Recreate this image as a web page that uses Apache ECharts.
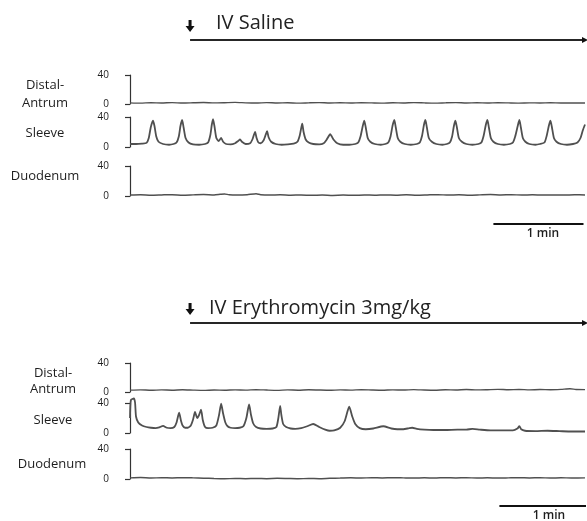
<!DOCTYPE html>
<html>
<head>
<meta charset="utf-8">
<script src="https://cdn.jsdelivr.net/npm/echarts@6/dist/echarts.min.js"></script>
<style>
html, body { margin: 0; padding: 0; background: #fff; }
#main { width: 587px; height: 521px; }
</style>
</head>
<body>
<div id="main"></div>
<script>
// time in seconds, pressure in mmHg
var recordEnd = 303;
var infusionStart = 40;
var scaleBarSaline = [242, 302];
var scaleBarEry = [246, 306];
var channelNames = ['Distal-\nAntrum', 'Sleeve', 'Duodenum'];
var infusionNames = ['IV Saline', 'IV Erythromycin 3mg/kg'];

// IV saline: distal antrum
var antrumSaline = [[0,1.6],[7,1.2],[14,1.8],[21,1.4],[28,1.9],[35,1.3],[42,1.7],[49,2.1],[56,1.5],[63,1.8],[70,2.2],[77,1.6],[84,1.3],[91,1.9],[98,1.4],[105,1.7],[112,1.2],[119,1.6],[126,1.9],[133,1.4],[140,1.7],[147,1.3],[154,1.8],[161,1.5],[168,1.2],[175,1.7],[182,1.4],[189,1.9],[196,1.5],[203,1.2],[210,1.6],[217,1.9],[224,1.4],[231,1.7],[238,1.3],[245,1.8],[252,1.5],[259,1.2],[266,1.6],[273,1.4],[280,1.7],[287,1.3],[294,1.5],[303,1.4]];

// IV saline: sleeve
var sleeveSaline = [[0,4],[4,4],[8,4.5],[11,5.5],[12.5,12],[13.8,26],[15.3,35],[16.3,28],[17.5,14],[19,7],[22,4],[26,3],[29,4],[31,6],[32.5,14],[33.6,28],[34.7,36],[35.7,26],[37,12],[39,6],[42,3.5],[46,3],[50,4],[52,6],[53.5,16],[54.5,30],[55.3,37],[56.3,27],[57.5,12],[59,8],[60.7,12],[62,7],[64,4],[67,3.5],[70,5],[72,8],[73.3,10],[74.5,7],[77,4],[80,5],[81.5,10],[82.5,16],[83.3,20],[84.3,12],[85.5,6],[87,5],[89,9],[90.3,16],[91.3,21],[92.3,13],[94,7],[97,4],[101,3],[105,3.5],[109,4.5],[111.5,7],[113,15],[114,25],[114.7,31],[115.6,20],[117,10],[119,6],[122,4],[126,3.5],[129,5],[131,10],[133.3,17],[135.5,10],[138,5],[142,3],[146,3],[150,4],[152,6],[153.5,14],[155,28],[156,35],[157,26],[158.3,12],[160,7],[163,4],[167,3],[170,4],[172,6],[173.5,14],[174.8,28],[176,36],[177,26],[178.3,12],[180,7],[183,4],[187,3],[191,4],[193,6],[194.5,15],[195.7,29],[196.7,36],[197.7,26],[199,12],[201,7],[204,4],[208,3],[211,4],[213,6],[214.5,14],[215.7,28],[216.7,35],[217.7,26],[219,12],[221,7],[224,4],[228,3],[232,4],[234,6],[235.5,15],[236.9,29],[238,36],[239,26],[240.3,12],[242,7],[245,4],[249,3],[253,4],[255,6],[256.5,14],[258.2,28],[259.3,36],[260.3,26],[261.6,12],[263.3,7],[266,4],[270,3],[273,4],[276,6],[277.5,15],[279,29],[280,35],[281,26],[282.3,12],[284,7],[287,4],[291,3],[295,4],[298,6],[300,12],[301.5,22],[303,30]];

// IV saline: duodenum
var duoSaline = [[0,1.2],[7,1.6],[14,1.0],[21,1.4],[28,1.8],[35,1.1],[42,1.5],[49,1.9],[56,1.4],[60,2.2],[63,2.8],[66,1.6],[72,1.3],[78,1.8],[84,3.0],[87,1.7],[93,1.2],[100,1.6],[107,1.0],[114,1.4],[121,0.9],[128,1.3],[135,0.8],[142,1.2],[149,0.9],[156,1.4],[163,1.0],[170,1.5],[177,1.1],[184,1.6],[191,1.0],[198,1.4],[205,1.8],[212,1.2],[219,1.6],[226,1.1],[233,1.5],[240,1.9],[247,1.4],[254,1.7],[261,1.3],[268,1.6],[275,1.2],[282,1.5],[289,1.3],[296,1.6],[303,1.4]];

// IV erythromycin: distal antrum
var antrumEry = [[0,2.6],[7,3.0],[14,2.4],[21,2.9],[28,2.5],[35,3.1],[42,2.6],[49,2.2],[56,2.8],[63,2.4],[70,3.0],[77,2.6],[84,3.2],[91,2.7],[98,2.3],[105,2.9],[112,2.5],[119,3.1],[126,2.7],[133,2.4],[140,2.9],[147,2.6],[154,3.2],[161,2.8],[168,2.5],[175,3.0],[182,2.7],[189,3.3],[196,2.8],[203,2.5],[210,3.1],[217,2.8],[224,3.4],[231,2.9],[238,3.2],[245,3.6],[252,3.1],[259,3.5],[266,3.0],[273,3.4],[280,3.1],[287,3.6],[293,4.4],[297,3.5],[303,3.3]];

// IV erythromycin: sleeve
var sleeveEry = [[0,20],[0.6,44],[2.6,46],[3.4,40],[4,22],[5.5,14],[8,10],[11,8],[14,7],[17,6.5],[19.5,7.5],[22,9.5],[24.5,7],[27,6.5],[29.5,8],[31,14],[32.7,27],[34,16],[35,10],[36.7,7],[38.5,7],[40.5,10],[42,18],[43.3,28],[44.7,20],[46,24],[47.3,31],[48.5,17],[50,8],[52,6.5],[55,7],[57.5,10],[59.3,24],[60.7,39],[62,26],[63.5,14],[65,9],[67,7],[70,6.5],[73,7],[75.5,9],[77.5,20],[79.3,38],[80.6,24],[82,13],[84,8],[87,6],[91,5.5],[95,6],[97.5,8],[98.8,20],[100,36],[100.8,24],[102,12],[104,8],[107,6],[110,5.5],[114,6.5],[118,9],[122,12],[126,8],[130,4.5],[133,3],[136,3.5],[140,7],[143,16],[146,35],[148,22],[150,12],[153,6.5],[157,5],[162,6],[168.7,9],[174,6],[178,5],[182,5],[186,6.5],[188,7],[191,5.5],[196,4.5],[202,4],[210,4],[218,4.5],[224,4.5],[228,5.5],[233,4.5],[240,3.5],[248,3.5],[255,3.5],[258,6],[259.3,9],[260.5,5],[263,3],[270,2.5],[278,3],[286,2.5],[294,2],[303,2]];

// IV erythromycin: duodenum
var duoEry = [[0,1.5],[7,1.9],[14,1.3],[21,1.7],[28,1.4],[35,1.8],[42,1.5],[49,1.1],[56,0.6],[63,0.3],[70,0.7],[77,0.4],[84,0.8],[91,0.5],[98,0.9],[105,0.6],[112,0.3],[119,0.7],[126,0.4],[133,0.9],[140,1.2],[147,1.6],[154,1.3],[161,1.7],[168,1.4],[175,1.8],[182,1.5],[189,1.2],[196,1.6],[203,1.3],[210,1.8],[217,1.4],[224,1.7],[231,1.3],[238,1.6],[245,1.2],[252,1.5],[259,1.8],[266,1.4],[273,1.7],[280,1.3],[287,1.6],[294,1.4],[303,1.5]];

var FONT = '"Open Sans", sans-serif';
var INK = '#1e1e1e';
var TRACE = '#505050';

var myChart = echarts.init(document.getElementById('main'));

var grids = [], xAxes = [], yAxes = [], series = [];

function addGrid(top, height) {
    var gi = grids.length;
    grids.push({ left: 130, width: 455, top: top, height: height });
    xAxes.push({ gridIndex: gi, type: 'value', min: 0, max: recordEnd, show: false });
    return gi;
}

function hiddenY(gi) {
    yAxes.push({ gridIndex: gi, type: 'value', min: 0, max: 2, show: false });
}

// the "]" bracket with 0 and 40 marks
function bracketY(gi) {
    yAxes.push({
        gridIndex: gi, type: 'value', min: 0, max: 40, interval: 40, offset: 13,
        axisLine: { show: true, lineStyle: { color: '#333', width: 1.2 } },
        axisTick: { show: true, length: 5, lineStyle: { color: '#333', width: 1.2 } },
        axisLabel: { fontSize: 10, color: INK, margin: 8, fontFamily: FONT },
        splitLine: { show: false }
    });
}

// header: down arrow + infusion line
function header(top) {
    var gi = addGrid(top - 10, 20);
    hiddenY(gi);
    series.push({
        type: 'line', xAxisIndex: gi, yAxisIndex: gi, symbol: 'none', silent: true, clip: false,
        data: [[infusionStart, 1], [recordEnd, 1]],
        lineStyle: { color: '#262626', width: 1.8 },
        markPoint: {
            silent: true, label: { show: false }, itemStyle: { color: '#111' },
            data: [{
                coord: [infusionStart, 1],
                symbol: 'path://M3,0 L6,0 L6,6 L9,6 L4.5,12 L0,6 L3,6 Z',
                symbolSize: [9, 12],
                symbolOffset: [0, -14]
            }, {
                coord: [recordEnd, 1], symbol: 'triangle', symbolRotate: -90, symbolSize: [6, 6]
            }]
        }
    });
}

function trace(top, height, data, width) {
    var gi = addGrid(top, height);
    bracketY(gi);
    series.push({
        type: 'line', xAxisIndex: gi, yAxisIndex: gi, symbol: 'none', silent: true, clip: false,
        smooth: 0.2,
        data: data,
        lineStyle: { color: TRACE, width: width }
    });
}

function scaleBar(y, bar, labelAt) {
    var gi = addGrid(y - 10, 20);
    hiddenY(gi);
    series.push({
        type: 'line', xAxisIndex: gi, yAxisIndex: gi, symbol: 'none', silent: true, clip: false,
        data: [[bar[0], 1], [bar[1], 1]],
        lineStyle: { color: '#111', width: 2 },
        markPoint: {
            silent: true, symbolSize: 0,
            label: {
                show: true, position: 'bottom', distance: 4, formatter: '1 min',
                fontFamily: FONT, fontSize: 12, fontWeight: 600, color: INK
            },
            data: [{ coord: [labelAt, 1] }]
        }
    });
}

// saline panel
header(40);
trace(75, 29, antrumSaline, 1.4);
trace(117, 30, sleeveSaline, 1.8);
trace(166, 30, duoSaline, 1.5);
scaleBar(224, scaleBarSaline, 275);

// erythromycin panel
header(323);
trace(363, 29, antrumEry, 1.4);
trace(403, 30, sleeveEry, 1.8);
trace(449, 30, duoEry, 1.5);
scaleBar(506, scaleBarEry, 279);

function label(text, x, y, lh) {
    return {
        type: 'text', x: x, y: y, silent: true,
        style: {
            text: text, fill: INK, font: '13px ' + FONT,
            textAlign: 'center', textVerticalAlign: 'middle', lineHeight: lh || 16
        }
    };
}

var option = {
    backgroundColor: '#fff',
    animation: false,
    title: [{
        text: infusionNames[0], left: 216, top: 13, padding: 0,
        textStyle: { fontFamily: FONT, fontSize: 20, fontWeight: 'normal', color: '#222' }
    }, {
        text: infusionNames[1], left: 209, top: 298, padding: 0,
        textStyle: { fontFamily: FONT, fontSize: 20, fontWeight: 'normal', color: '#222' }
    }],
    grid: grids,
    xAxis: xAxes,
    yAxis: yAxes,
    series: series,
    graphic: [
        label(channelNames[0], 45, 94, 18),
        label(channelNames[1], 45, 133),
        label(channelNames[2], 45, 176),
        label(channelNames[0], 53, 381, 16),
        label(channelNames[1], 53, 420),
        label(channelNames[2], 52, 464)
    ]
};

myChart.setOption(option);
</script>
</body>
</html>
